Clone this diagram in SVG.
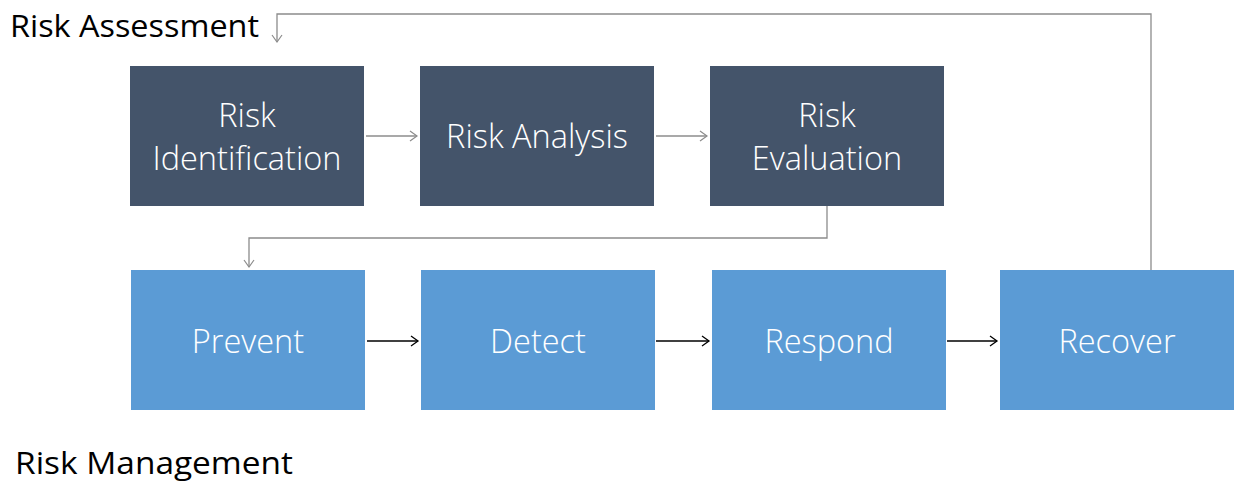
<svg xmlns="http://www.w3.org/2000/svg" width="1238" height="481" viewBox="0 0 1238 481">
<defs>
<style>
.title{font-family:"Open Sans","Liberation Sans",sans-serif;font-size:31px;fill:#000}
.lbl{font-family:"Open Sans","Liberation Sans",sans-serif;font-size:32.5px;fill:#fff;text-anchor:middle;font-weight:300}
.dark{fill:#44546A}
.blue{fill:#5B9BD5}
.gc{fill:none;stroke:#8c8c8c;stroke-width:1.3}
.bc{fill:none;stroke:#000;stroke-width:1.3}
</style>
<marker id="ga" markerWidth="12" markerHeight="12" refX="10" refY="6" orient="auto" markerUnits="userSpaceOnUse"><path d="M3,1 L10,6 L3,11" fill="none" stroke="#8c8c8c" stroke-width="1.2"/></marker>
<marker id="ba" markerWidth="12" markerHeight="12" refX="10" refY="6" orient="auto" markerUnits="userSpaceOnUse"><path d="M3,1 L10,6 L3,11" fill="none" stroke="#000" stroke-width="1.3"/></marker>
</defs>
<rect width="1238" height="481" fill="#fff"/>
<text class="title" x="10" y="37" textLength="249" lengthAdjust="spacingAndGlyphs">Risk Assessment</text>
<text class="title" x="15" y="474" textLength="278" lengthAdjust="spacingAndGlyphs">Risk Management</text>
<g id="risk-identification"><rect class="dark" x="130" y="66" width="234" height="140"/><text class="lbl" x="247" y="127">Risk</text><text class="lbl" x="247" y="170">Identification</text></g>
<g id="risk-analysis"><rect class="dark" x="420" y="66" width="234" height="140"/><text class="lbl" x="537" y="148">Risk Analysis</text></g>
<g id="risk-evaluation"><rect class="dark" x="710" y="66" width="234" height="140"/><text class="lbl" x="827" y="127">Risk</text><text class="lbl" x="827" y="170">Evaluation</text></g>
<g id="prevent"><rect class="blue" x="131" y="270" width="234" height="140"/><text class="lbl" x="248" y="353">Prevent</text></g>
<g id="detect"><rect class="blue" x="421" y="270" width="234" height="140"/><text class="lbl" x="538" y="353">Detect</text></g>
<g id="respond"><rect class="blue" x="712" y="270" width="234" height="140"/><text class="lbl" x="829" y="353">Respond</text></g>
<g id="recover"><rect class="blue" x="1000" y="270" width="234" height="140"/><text class="lbl" x="1117" y="353">Recover</text></g>
<g id="connectors">
<path class="gc" d="M366,136 H417" marker-end="url(#ga)"/>
<path class="gc" d="M656,136 H707" marker-end="url(#ga)"/>
<path class="gc" d="M827,206 V238 H249 V267" marker-end="url(#ga)"/>
<path class="gc" d="M1151,270 V14 H277 V42" marker-end="url(#ga)"/>
<path class="bc" d="M367,341 H418" marker-end="url(#ba)"/>
<path class="bc" d="M656,341 H709" marker-end="url(#ba)"/>
<path class="bc" d="M947,341 H997" marker-end="url(#ba)"/>
</g>
</svg>
